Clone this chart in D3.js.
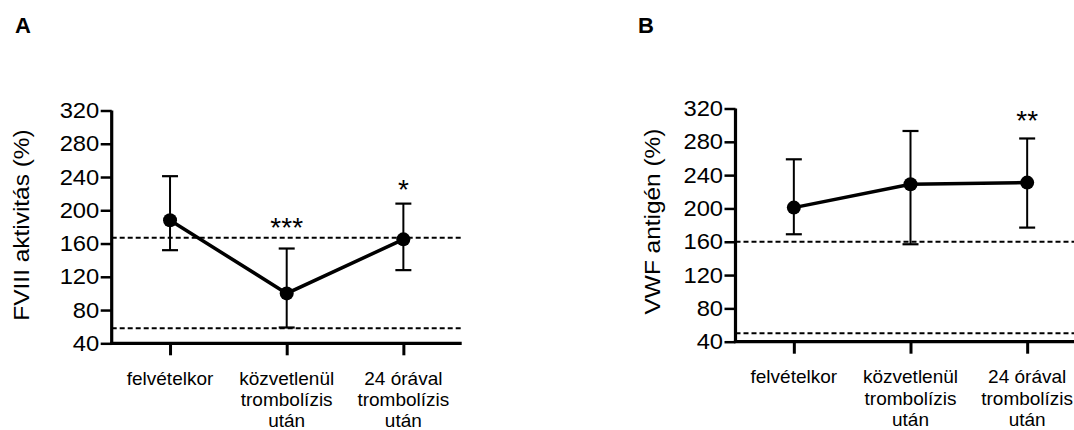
<!DOCTYPE html>
<html>
<head>
<meta charset="utf-8">
<script src="https://cdn.jsdelivr.net/npm/d3@7"></script>
<style>
  html, body { margin: 0; padding: 0; background: #fff; }
  svg { display: block; font-family: "Liberation Sans", Arial, sans-serif; }
</style>
</head>
<body>
<svg id="chart" width="1074" height="430"></svg>
<script>
// ---- data ----
const categories = [["felvételkor"], ["közvetlenül", "trombolízis", "után"], ["24 órával", "trombolízis", "után"]];
const yTicks = [40, 80, 120, 160, 200, 240, 280, 320];

const fviiiMean = [188, 100, 165];
const fviiiHigh = [241, 154, 208];
const fviiiLow  = [152, 59, 128];
const fviiiRef  = [167, 58];
const fviiiSig  = ["", "***", "*"];
const fviiiSigAt = [null, 187, 233];   // star height in data units

const vwfMean = [201, 229, 231];
const vwfHigh = [259, 293, 284];
const vwfLow  = [169, 157, 177];
const vwfRef  = [160, 50];
const vwfSig  = ["", "", "**"];
const vwfSigAt = [null, null, 313];

const panels = [
  { letter: "A", title: "FVIII aktivitás (%)", mean: fviiiMean, high: fviiiHigh, low: fviiiLow, ref: fviiiRef, sig: fviiiSig, sigAt: fviiiSigAt,
    x0: 111.7, x1: 461.7, yTop: 110.5, yBot: 343.3, refEnd: 461.7, letterX: 15, labelX: 28.5, labelY: 225 },
  { letter: "B", title: "VWF antigén (%)", mean: vwfMean, high: vwfHigh, low: vwfLow, ref: vwfRef, sig: vwfSig, sigAt: vwfSigAt,
    x0: 735.5, x1: 1085.5, yTop: 108.5, yBot: 341.7, refEnd: 1074, letterX: 638, labelX: 660, labelY: 221.5 }
];

const svg = d3.select("#chart");

panels.forEach(p => {
  const g = svg.append("g");
  const idx = categories.map((c, i) => i);
  const x = d3.scalePoint().domain(idx).range([p.x0, p.x1]).padding(0.5);
  const y = d3.scaleLinear().domain([40, 320]).range([p.yBot, p.yTop]);

  // panel letter
  g.append("text").attr("x", p.letterX).attr("y", 32.5)
    .attr("font-size", 22).attr("font-weight", "bold").text(p.letter);

  // y axis label
  g.append("text")
    .attr("transform", `translate(${p.labelX},${p.labelY}) rotate(-90) scale(1.11,1)`)
    .attr("text-anchor", "middle").attr("font-size", 22).text(p.title);

  // reference dashed lines
  g.selectAll(".ref").data(p.ref).enter().append("line")
    .attr("x1", p.x0).attr("x2", p.refEnd)
    .attr("y1", d => y(d)).attr("y2", d => y(d))
    .attr("stroke", "#000").attr("stroke-width", 2).attr("stroke-dasharray", "5,3");

  // y axis
  const yAxis = d3.axisLeft(y).tickValues(yTicks).tickSize(11).tickPadding(0.5).tickFormat(d3.format("d"));
  const ya = g.append("g").attr("transform", `translate(${p.x0},0)`).call(yAxis);
  ya.select(".domain").attr("stroke-width", 3.2).attr("d", `M0,${p.yTop}V${p.yBot}`);
  ya.selectAll(".tick line").attr("stroke-width", 2.5);
  ya.selectAll(".tick text").attr("font-size", 22).attr("font-family", "Liberation Sans, Arial, sans-serif")
    .attr("fill", "#000").attr("transform", "scale(1.08,1)");

  // x axis
  const xAxis = d3.axisBottom(x).tickSize(12).tickFormat("");
  const xa = g.append("g").attr("transform", `translate(0,${p.yBot})`).call(xAxis);
  xa.select(".domain").attr("stroke-width", 3.2).attr("d", `M${p.x0 - 1.6},0H${p.x1}`);
  xa.selectAll(".tick line").attr("stroke-width", 3);

  // x labels
  categories.forEach((lines, i) => {
    const t = g.append("text").attr("text-anchor", "middle").attr("font-size", 19);
    lines.forEach((ln, j) => {
      t.append("tspan").attr("x", x(i)).attr("y", p.yBot + 41.5 + j * 21.3).text(ln);
    });
  });

  // error bars
  idx.forEach(i => {
    const cx = x(i);
    g.append("line").attr("x1", cx).attr("x2", cx).attr("y1", y(p.high[i])).attr("y2", y(p.low[i]))
      .attr("stroke", "#000").attr("stroke-width", 2);
    [p.high[i], p.low[i]].forEach(v => {
      g.append("line").attr("x1", cx - 8).attr("x2", cx + 8).attr("y1", y(v)).attr("y2", y(v))
        .attr("stroke", "#000").attr("stroke-width", 2.2);
    });
  });

  // mean line
  const line = d3.line().x((d, i) => x(i)).y(d => y(d));
  g.append("path").datum(p.mean).attr("d", line).attr("fill", "none")
    .attr("stroke", "#000").attr("stroke-width", 3.5);

  // markers
  g.selectAll(".dot").data(p.mean).enter().append("circle")
    .attr("cx", (d, i) => x(i)).attr("cy", d => y(d)).attr("r", 7).attr("fill", "#000");

  // significance stars
  p.sig.forEach((s, i) => {
    if (!s) return;
    g.append("text").attr("x", x(i)).attr("y", y(p.sigAt[i]) + 16)
      .attr("text-anchor", "middle").attr("font-size", 28).text(s);
  });
});
</script>
</body>
</html>
